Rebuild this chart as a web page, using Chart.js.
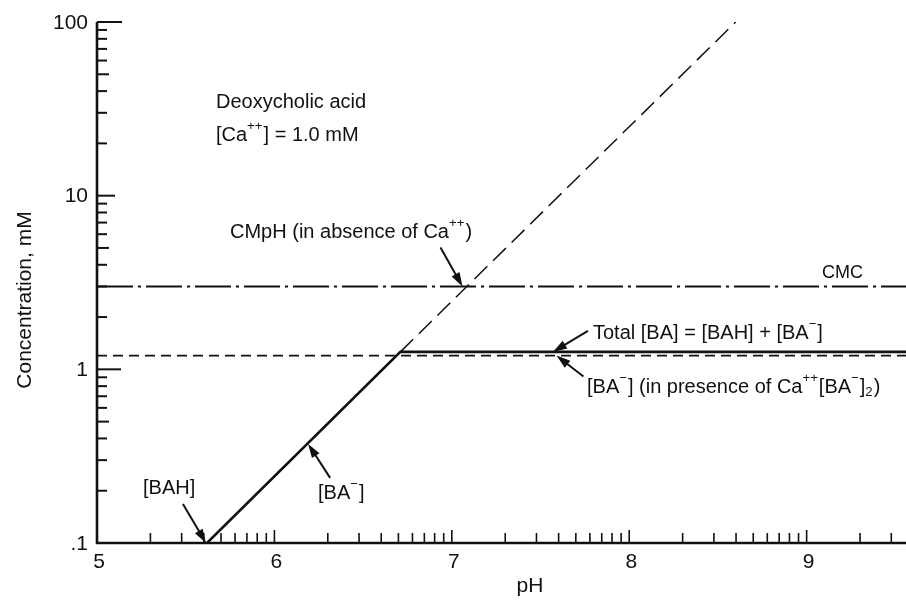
<!DOCTYPE html>
<html>
<head>
<meta charset="utf-8">
<script src="https://cdn.jsdelivr.net/npm/chart.js@4/dist/chart.umd.min.js"></script>
<style>
    html, body { margin: 0; padding: 0; background: #fff; }
    canvas { display: block; }
</style>
</head>
<body>
<canvas id="chart" width="906" height="600"></canvas>
<script>
// values (pH vs concentration, mM)
const TOTAL_PH = [5.62, 6.71, 9.56];
const TOTAL_BA = [0.1, 1.26, 1.26];
const FREE_PH = [5.0, 9.56];
const FREE_BA = [1.2, 1.2];
const CMC_PH = [5.0, 9.56];
const CMC_VAL = [3.0, 3.0];
const CMPH_PH = [6.71, 8.6];
const CMPH_VAL = [1.26, 100];

const X_TICKS = [5, 6, 7, 8, 9];
const Y_TICKS = [0.1, 1, 10, 100];
const Y_LABELS = [".1", "1", "10", "100"];

const FONT = "'Liberation Sans', Arial, sans-serif";
const INK = "#111";

function points(xs, ys) {
    return xs.map((x, i) => ({ x, y: ys[i] }));
}

function lineSet(xs, ys, width, dash) {
    return {
        data: points(xs, ys),
        borderColor: INK,
        borderWidth: width,
        borderDash: dash,
        pointRadius: 0,
        fill: false,
        tension: 0,
    };
}

// text pieces, sup/sub for the ion charges
const LABELS = [
    { x: 216, y: 102, size: 20, parts: [{ t: "Deoxycholic acid" }] },
    { x: 216, y: 135, size: 20, parts: [{ t: "[Ca" }, { t: "++", sup: true }, { t: "] = 1.0 mM" }] },
    { x: 230, y: 232, size: 20, parts: [{ t: "CMpH (in absence of Ca" }, { t: "++", sup: true }, { t: ")" }] },
    { x: 822, y: 273, size: 18, parts: [{ t: "CMC" }] },
    { x: 593, y: 333, size: 20, parts: [{ t: "Total [BA] = [BAH] + [BA" }, { t: "\u2212", sup: true }, { t: "]" }] },
    { x: 587, y: 387, size: 20, parts: [{ t: "[BA" }, { t: "\u2212", sup: true }, { t: "] (in presence of Ca" }, { t: "++", sup: true }, { t: "[BA" }, { t: "\u2212", sup: true }, { t: "]" }, { t: "2", sub: true }, { t: ")" }] },
    { x: 143, y: 488, size: 20, parts: [{ t: "[BAH]" }] },
    { x: 318, y: 493, size: 20, parts: [{ t: "[BA" }, { t: "\u2212", sup: true }, { t: "]" }] },
];

// arrow tip in data units, tail as pixel offset from the tip
const ARROWS = [
    { x: 5.614, y: 0.1, dx: -23, dy: -39 },
    { x: 6.19, y: 0.372, dx: 22, dy: 34 },
    { x: 7.06, y: 3.0, dx: -22, dy: -39 },
    { x: 7.57, y: 1.26, dx: 35, dy: -21 },
    { x: 7.59, y: 1.2, dx: 27, dy: 21 },
];

function drawRich(ctx, parts, x, y, size) {
    let cx = x;
    ctx.textAlign = "left";
    ctx.textBaseline = "middle";
    parts.forEach((p) => {
        const small = p.sup || p.sub;
        const s = small ? size * 0.66 : size;
        ctx.font = `${s}px ${FONT}`;
        const dy = p.sup ? -size * 0.42 : p.sub ? size * 0.28 : 0;
        ctx.fillText(p.t, cx, y + dy);
        cx += ctx.measureText(p.t).width + (small ? 1 : 0);
    });
}

function drawArrow(ctx, x1, y1, x2, y2) {
    const a = Math.atan2(y2 - y1, x2 - x1);
    const len = 14, half = 4.5;
    ctx.beginPath();
    ctx.moveTo(x1, y1);
    ctx.lineTo(x2 - Math.cos(a) * len * 0.8, y2 - Math.sin(a) * len * 0.8);
    ctx.lineWidth = 2;
    ctx.stroke();
    ctx.beginPath();
    ctx.moveTo(x2, y2);
    ctx.lineTo(x2 - Math.cos(a) * len + Math.sin(a) * half, y2 - Math.sin(a) * len - Math.cos(a) * half);
    ctx.lineTo(x2 - Math.cos(a) * len - Math.sin(a) * half, y2 - Math.sin(a) * len + Math.cos(a) * half);
    ctx.closePath();
    ctx.fill();
}

const framePlugin = {
    id: "frame",
    afterDraw(chart) {
        const { ctx, chartArea: area } = chart;
        const xs = chart.scales.x;
        const ys = chart.scales.y;
        ctx.save();
        ctx.strokeStyle = INK;
        ctx.fillStyle = INK;
        ctx.lineCap = "butt";

        // axis lines
        ctx.lineWidth = 2.6;
        ctx.beginPath();
        ctx.moveTo(area.left, area.top);
        ctx.lineTo(area.left, area.bottom);
        ctx.lineTo(area.right, area.bottom);
        ctx.stroke();

        // y ticks (log minor ticks pointing inward)
        ctx.lineWidth = 2;
        for (let d = -1; d < 2; d++) {
            for (let k = 2; k <= 9; k++) {
                const py = ys.getPixelForValue(k * Math.pow(10, d));
                ctx.beginPath();
                ctx.moveTo(area.left, py);
                ctx.lineTo(area.left + (k === 5 ? 12 : 10), py);
                ctx.stroke();
            }
        }
        const majorLen = [0, 24, 18, 25];
        Y_TICKS.forEach((v, i) => {
            const py = ys.getPixelForValue(v);
            if (majorLen[i]) {
                ctx.beginPath();
                ctx.moveTo(area.left, py);
                ctx.lineTo(area.left + majorLen[i], py);
                ctx.stroke();
            }
            ctx.font = `21px ${FONT}`;
            ctx.textAlign = "right";
            ctx.textBaseline = "middle";
            ctx.fillText(Y_LABELS[i], area.left - 9, py + 1);
        });

        // x ticks: minor ticks at n + log10(k), as printed
        ctx.lineWidth = 1.6;
        for (let n = 5; n < 10; n++) {
            for (let k = 2; k <= 10; k++) {
                const v = n + Math.log10(k);
                if (v > xs.max) continue;
                const px = xs.getPixelForValue(v);
                ctx.beginPath();
                ctx.moveTo(px, area.bottom);
                ctx.lineTo(px, area.bottom - (k === 10 ? 13 : 10));
                ctx.stroke();
            }
        }
        X_TICKS.forEach((v) => {
            const px = xs.getPixelForValue(v);
            ctx.font = `21px ${FONT}`;
            ctx.textAlign = "center";
            ctx.textBaseline = "middle";
            ctx.fillText(String(v), px + 2, area.bottom + 19);
        });

        // axis titles
        ctx.font = `21px ${FONT}`;
        ctx.textAlign = "center";
        ctx.textBaseline = "middle";
        ctx.fillText("pH", 530, 586);
        ctx.save();
        ctx.translate(25, 300);
        ctx.rotate(-Math.PI / 2);
        ctx.fillText("Concentration, mM", 0, 0);
        ctx.restore();

        // annotations
        LABELS.forEach((l) => drawRich(ctx, l.parts, l.x, l.y, l.size));
        ARROWS.forEach((a) => {
            const tx = xs.getPixelForValue(a.x);
            const ty = ys.getPixelForValue(a.y);
            drawArrow(ctx, tx + a.dx, ty + a.dy, tx, ty);
        });
        ctx.restore();
    },
};

new Chart(document.getElementById("chart"), {
    type: "line",
    data: {
        datasets: [
            lineSet(CMC_PH, CMC_VAL, 2, [36, 5, 3, 5]),
            lineSet(FREE_PH, FREE_BA, 1.8, [10, 6]),
            lineSet(CMPH_PH, CMPH_VAL, 1.5, [18, 8]),
            lineSet(TOTAL_PH, TOTAL_BA, 2.6, []),
        ],
    },
    options: {
        responsive: false,
        animation: false,
        layout: { padding: { left: 97, right: 0, top: 22, bottom: 57 } },
        plugins: { legend: { display: false }, tooltip: { enabled: false } },
        scales: {
            x: { type: "linear", min: 5, max: 9.56, display: false },
            y: { type: "logarithmic", min: 0.1, max: 100, display: false },
        },
    },
    plugins: [framePlugin],
});
</script>
</body>
</html>
